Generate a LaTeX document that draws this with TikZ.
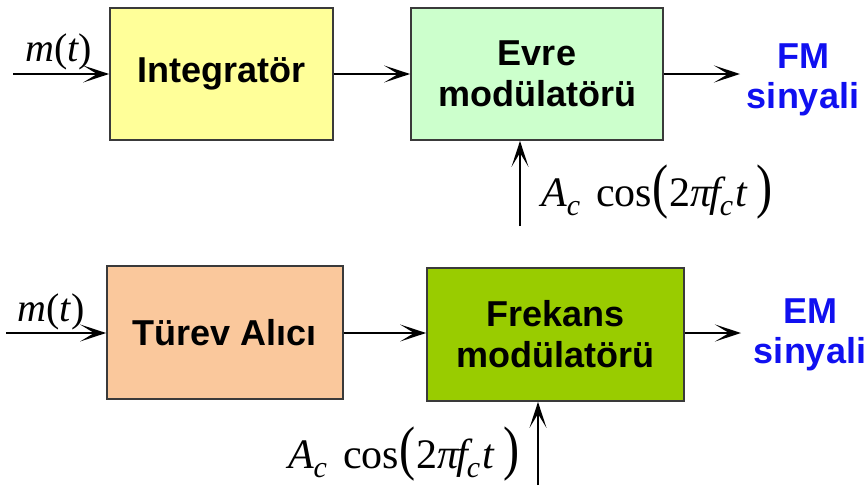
\documentclass[tikz,border=0pt]{standalone}
\usepackage{fontspec}
\usepackage{graphicx}
\setmainfont{Liberation Sans}
\newfontfamily\tnr{Liberation Serif}
\usetikzlibrary{arrows.meta}

\definecolor{boxline}{HTML}{3A3A3A}
\definecolor{intfill}{HTML}{FFFF99}
\definecolor{evrefill}{HTML}{CCFFCC}
\definecolor{turevfill}{HTML}{FAC89C}
\definecolor{frekfill}{HTML}{99CC00}
\definecolor{sigblue}{HTML}{1010F0}

% pieces of the carrier formula
\newcommand{\subc}{\raisebox{-9pt}{\fontsize{30}{30}\selectfont\itshape c}}
\newcommand{\tallpar}[1]{\scalebox{1.15}[1.43]{#1}}
\newcommand{\carrier}{{\itshape A}\subc\hspace{16pt}cos\tallpar{(}\kern1pt 2{\itshape π\kern-2pt f}\kern-1pt\subc\kern2pt{\itshape t}\kern10pt\tallpar{)}}
\newcommand{\msig}{{\itshape m}({\itshape t})}

\begin{document}
\begin{tikzpicture}[x=1pt,y=-1pt,
  block/.style={draw=boxline, line width=1.8pt, inner sep=0pt, align=center,
    font=\fontsize{36}{41}\selectfont\bfseries},
  sig/.style={line width=2pt, draw=black,
    -{Stealth[length=26pt,width=17pt,inset=14pt]}},
  outlbl/.style={align=center, text=sigblue,
    font=\fontsize{36}{40}\selectfont\bfseries},
  formula/.style={inner sep=0pt, font=\tnr\fontsize{42}{42}\selectfont},
  msiglbl/.style={inner sep=0pt, font=\tnr\fontsize{40}{40}\selectfont}]

\useasboundingbox (0,0) rectangle (868,485);

% upper chain: integrator followed by phase modulator
\node[block, fill=intfill, minimum width=223pt, minimum height=132pt] (int) at (221.5,74) {Integratör};
\node[block, fill=evrefill, minimum width=252pt, minimum height=132pt] (evre) at (537,74) {Evre\\modülatörü};
\node[outlbl] (fm) at (803,80) {FM\\sinyali};
\node[msiglbl] (m1) at (59,52) {\msig};
\node[formula] (ac1) at (657,192) {\carrier};
\coordinate (in1) at (13,74);
\coordinate (out1) at (740,74);
\coordinate (car1) at (520,226);

\draw[sig] (in1) -- (int.west);
\draw[sig] (int.east) -- (evre.west);
\draw[sig] (evre.east) -- (out1);
\draw[sig] (car1) -- (car1 |- evre.south);

% lower chain: differentiator followed by frequency modulator
\node[block, fill=turevfill, minimum width=236pt, minimum height=133pt] (turev) at (225,332.5) {Türev Alıcı};
\node[block, fill=frekfill, minimum width=257pt, minimum height=133pt] (frek) at (555.5,334.5) {Frekans\\modülatörü};
\node[outlbl] (em) at (810,335) {EM\\sinyali};
\node[msiglbl] (m2) at (51,312) {\msig};
\node[formula] (ac2) at (404,454) {\carrier};
\coordinate (in2) at (6,333);
\coordinate (out2) at (741,333);
\coordinate (car2) at (538,485);

\draw[sig] (in2) -- (in2 -| turev.west);
\draw[sig] (turev.east |- in2) -- (in2 -| frek.west);
\draw[sig] (frek.east |- in2) -- (out2);
\draw[sig] (car2) -- (car2 |- frek.south);
\end{tikzpicture}
\end{document}
